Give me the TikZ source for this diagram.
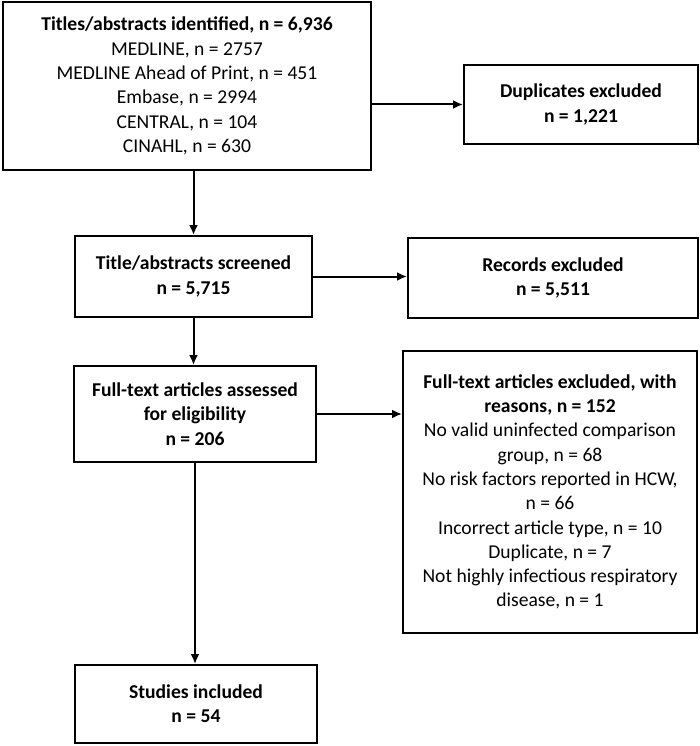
\documentclass[tikz,border=0pt]{standalone}
\usepackage{fontspec}
\setmainfont{Carlito}
\usetikzlibrary{arrows.meta}
\begin{document}
\begin{tikzpicture}[x=1pt,y=-1pt,
    box/.style={draw,line width=2pt,align=center,inner sep=0pt,
      font=\fontsize{19.6}{24.3}\selectfont},
    arr/.style={line width=2pt,-{Latex[length=10pt,width=9pt]}}]
  \useasboundingbox (0,0) rectangle (700,746);
  % left column
  \node[box,minimum width=368,minimum height=168] (ident) at (187,86)
    {\textbf{Titles/abstracts identified, n = 6,936}\\ MEDLINE, n = 2757\\
     MEDLINE Ahead of Print, n = 451\\ Embase, n = 2994\\ CENTRAL, n = 104\\
     CINAHL, n = 630};
  \node[box,minimum width=237,minimum height=81] (screen) at (193.5,276.5)
    {\textbf{Title/abstracts screened}\\ \textbf{n = 5,715}};
  \node[box,minimum width=242,minimum height=96] (full) at (195,414)
    {\textbf{Full-text articles assessed}\\ \textbf{for eligibility}\\ \textbf{n = 206}};
  \node[box,minimum width=242,minimum height=78] (incl) at (196,704)
    {\textbf{Studies included}\\ \textbf{n = 54}};
  % right column
  \node[box,minimum width=234,minimum height=79] (dup) at (581,104.5)
    {\textbf{Duplicates excluded}\\ \textbf{n = 1,221}};
  \node[box,minimum width=290,minimum height=80] (rec) at (553,278)
    {\textbf{Records excluded}\\ \textbf{n = 5,511}};
  \node[box,minimum width=294,minimum height=282] (excl) at (550,492)
    {\textbf{Full-text articles excluded, with}\\ \textbf{reasons, n = 152}\\
     No valid uninfected comparison\\ group, n = 68\\
     No risk factors reported in HCW,\\ n = 66\\
     Incorrect article type, n = 10\\ Duplicate, n = 7\\
     Not highly infectious respiratory\\ disease, n = 1};
  % arrows
  \draw[arr] (ident.south -| screen.north) -- (screen.north);
  \draw[arr] (screen.south) -- (screen.south |- full.north);
  \draw[arr] (full.south) -- (full.south |- incl.north);
  \draw[arr] (ident.east |- dup.west) -- (dup.west);
  \draw[arr] (screen.east) -- (screen.east -| rec.west);
  \draw[arr] (full.east) -- (full.east -| excl.west);
\end{tikzpicture}
\end{document}
